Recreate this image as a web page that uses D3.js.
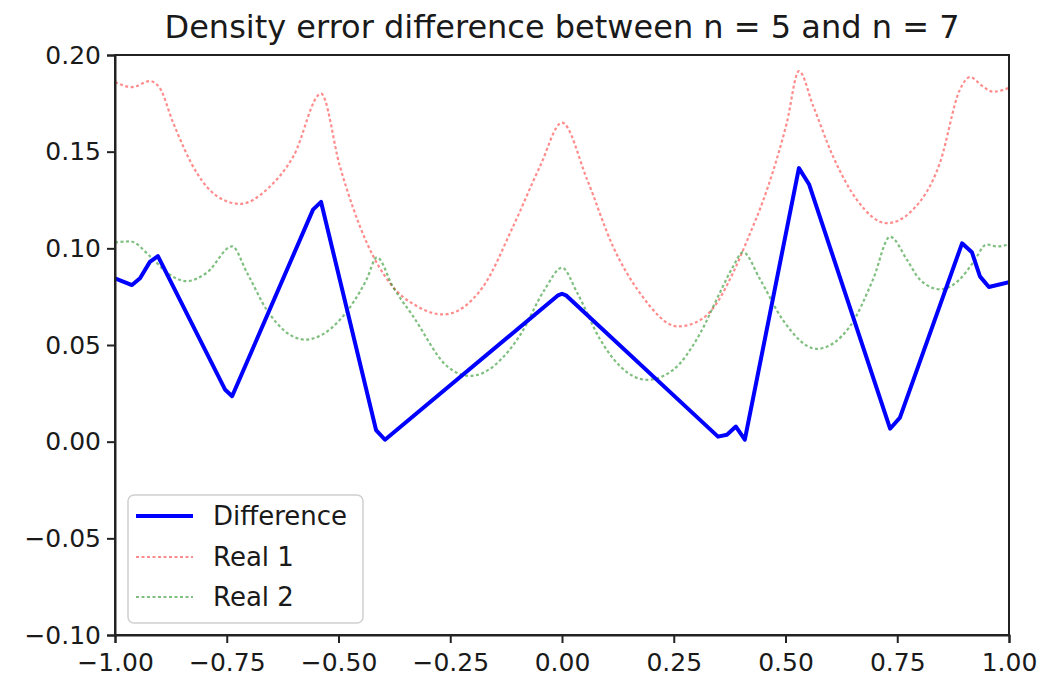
<!DOCTYPE html>
<html>
<head>
<meta charset="utf-8">
<style>
body { margin: 0; background: #fff; }
text { font-family: "DejaVu Sans", sans-serif; fill: #1a1a1a; }
.axis path, .axis line { stroke: #222; stroke-width: 2; }
</style>
<script src="https://d3js.org/d3.v7.min.js"></script>
</head>
<body>
<svg id="chart" width="1038" height="681"></svg>
<script>
// Difference (solid blue)
var diffX = [-1.0, -0.962, -0.944, -0.922, -0.904, -0.754, -0.738, -0.557, -0.539, -0.416, -0.396, -0.01, 0.0, 0.01, 0.349, 0.369, 0.389, 0.409, 0.530, 0.553, 0.734, 0.756, 0.895, 0.917, 0.935, 0.955, 1.0]
var diffY = [0.0845, 0.081, 0.0845, 0.093, 0.096, 0.027, 0.0235, 0.120, 0.124, 0.006, 0.001, 0.0755, 0.0765, 0.0755, 0.0026, 0.0036, 0.0078, 0.001, 0.1415, 0.133, 0.0067, 0.0124, 0.1026, 0.098, 0.0855, 0.080, 0.0825]

// Real 1 (dotted red)
var real1X = [-1.0, -0.962, -0.922, -0.90, -0.87, -0.817, -0.772, -0.72, -0.66, -0.60, -0.539, -0.497, -0.437, -0.385, -0.324, -0.266, -0.177, -0.110, -0.049, 0.0, 0.056, 0.114, 0.174, 0.26, 0.31, 0.338, 0.383, 0.414, 0.459, 0.503, 0.530, 0.562, 0.606, 0.660, 0.727, 0.785, 0.846, 0.890, 0.913, 0.94, 0.964, 1.0]
var real1Y = [0.186, 0.1834, 0.1865, 0.183, 0.165, 0.139, 0.127, 0.123, 0.1305, 0.148, 0.180, 0.1425, 0.103, 0.082, 0.070, 0.0658, 0.080, 0.111, 0.1425, 0.165, 0.1357, 0.101, 0.077, 0.0596, 0.063, 0.069, 0.0875, 0.104, 0.1306, 0.165, 0.1917, 0.1736, 0.1477, 0.125, 0.113, 0.120, 0.1446, 0.182, 0.1886, 0.184, 0.181, 0.183]

// Real 2 (dotted green)
var real2X = [-1.0, -0.966, -0.922, -0.884, -0.84, -0.794, -0.738, -0.705, -0.66, -0.575, -0.497, -0.437, -0.414, -0.378, -0.333, -0.257, -0.206, -0.094, -0.038, 0.0, 0.034, 0.085, 0.13, 0.19, 0.248, 0.309, 0.353, 0.383, 0.405, 0.443, 0.494, 0.570, 0.644, 0.696, 0.734, 0.772, 0.80, 0.846, 0.89, 0.92, 0.95, 0.973, 1.0]
var real2Y = [0.103, 0.1036, 0.096, 0.0875, 0.083, 0.0875, 0.101, 0.0875, 0.068, 0.0528, 0.063, 0.084, 0.0953, 0.080, 0.0648, 0.039, 0.034, 0.055, 0.079, 0.090, 0.077, 0.053, 0.039, 0.032, 0.037, 0.056, 0.077, 0.0907, 0.098, 0.084, 0.063, 0.048, 0.0596, 0.084, 0.106, 0.094, 0.084, 0.0788, 0.084, 0.0927, 0.102, 0.101, 0.102]

var xTicks = [-1.0, -0.75, -0.5, -0.25, 0.0, 0.25, 0.5, 0.75, 1.0]
var yTicks = [-0.10, -0.05, 0.0, 0.05, 0.10, 0.15, 0.20]
var legendLabels = ["Difference", "Real 1", "Real 2"]

var mLeft = 115, mRight = 1009, mTop = 55, mBottom = 635

var svg = d3.select("#chart")

var xScale = d3.scaleLinear().domain([-1, 1]).range([mLeft, mRight])
var yScale = d3.scaleLinear().domain([-0.1, 0.2]).range([mBottom, mTop])

function fmt(d) {
    return d3.format(".2f")(d).replace("-", "\u2212")
}

function pairs(xs, ys) {
    return xs.map(function(x, i){ return [x, ys[i]] })
}

var series = [
    {name: "Difference", data: pairs(diffX, diffY), color: "#0000ff", width: 4, dash: null, curve: d3.curveLinear},
    {name: "Real 1", data: pairs(real1X, real1Y), color: "rgba(255,0,0,0.45)", width: 2.2, dash: "3,2.5", curve: d3.curveMonotoneX},
    {name: "Real 2", data: pairs(real2X, real2Y), color: "rgba(0,128,0,0.5)", width: 2.2, dash: "3,2.5", curve: d3.curveMonotoneX}
]

svg.append("defs").append("clipPath").attr("id", "clip")
   .append("rect")
   .attr("x", mLeft).attr("y", mTop)
   .attr("width", mRight - mLeft).attr("height", mBottom - mTop)

var plot = svg.append("g").attr("clip-path", "url(#clip)")

// dotted ones first, blue on top
var order = [series[1], series[2], series[0]]
order.forEach(function(s){
    var line = d3.line()
                 .x(function(d){ return xScale(d[0]) })
                 .y(function(d){ return yScale(d[1]) })
                 .curve(s.curve)
    plot.append("path")
        .datum(s.data)
        .attr("d", line)
        .attr("fill", "none")
        .attr("stroke", s.color)
        .attr("stroke-width", s.width)
        .attr("stroke-dasharray", s.dash)
        .attr("stroke-linejoin", "round")
})

var xAxis = d3.axisBottom(xScale).tickValues(xTicks).tickFormat(fmt).tickSizeOuter(0).tickSize(8).tickPadding(5)
var yAxis = d3.axisLeft(yScale).tickValues(yTicks).tickFormat(fmt).tickSizeOuter(0).tickSize(8).tickPadding(6)

var gx = svg.append("g").attr("class", "axis")
   .attr("transform", "translate(0," + mBottom + ")")
   .call(xAxis)
var gy = svg.append("g").attr("class", "axis")
   .attr("transform", "translate(" + mLeft + ",0)")
   .call(yAxis)

gx.selectAll("text").style("font-size", "25px").attr("dy", "0.9em")
gy.selectAll("text").style("font-size", "25px")

// frame
svg.append("rect")
   .attr("x", mLeft).attr("y", mTop)
   .attr("width", mRight - mLeft).attr("height", mBottom - mTop)
   .attr("fill", "none")
   .attr("stroke", "#222")
   .attr("stroke-width", 2)

svg.append("text")
   .attr("x", (mLeft + mRight) / 2)
   .attr("y", 38)
   .attr("text-anchor", "middle")
   .style("font-size", "32px")
   .text("Density error difference between n = 5 and n = 7")

// legend
var lg = svg.append("g")
lg.append("rect")
  .attr("x", 128).attr("y", 495)
  .attr("width", 235).attr("height", 128)
  .attr("rx", 6)
  .attr("fill", "rgba(255,255,255,0.8)")
  .attr("stroke", "#d0d0d0")
  .attr("stroke-width", 1.5)

var rowY = [516, 557, 597]
series.forEach(function(s, i){
    lg.append("line")
      .attr("x1", 136).attr("x2", 193)
      .attr("y1", rowY[i]).attr("y2", rowY[i])
      .attr("stroke", s.color)
      .attr("stroke-width", s.width)
      .attr("stroke-dasharray", s.dash)
    lg.append("text")
      .attr("x", 213).attr("y", rowY[i])
      .attr("dy", "0.35em")
      .style("font-size", "26px")
      .text(legendLabels[i])
})
</script>
</body>
</html>
